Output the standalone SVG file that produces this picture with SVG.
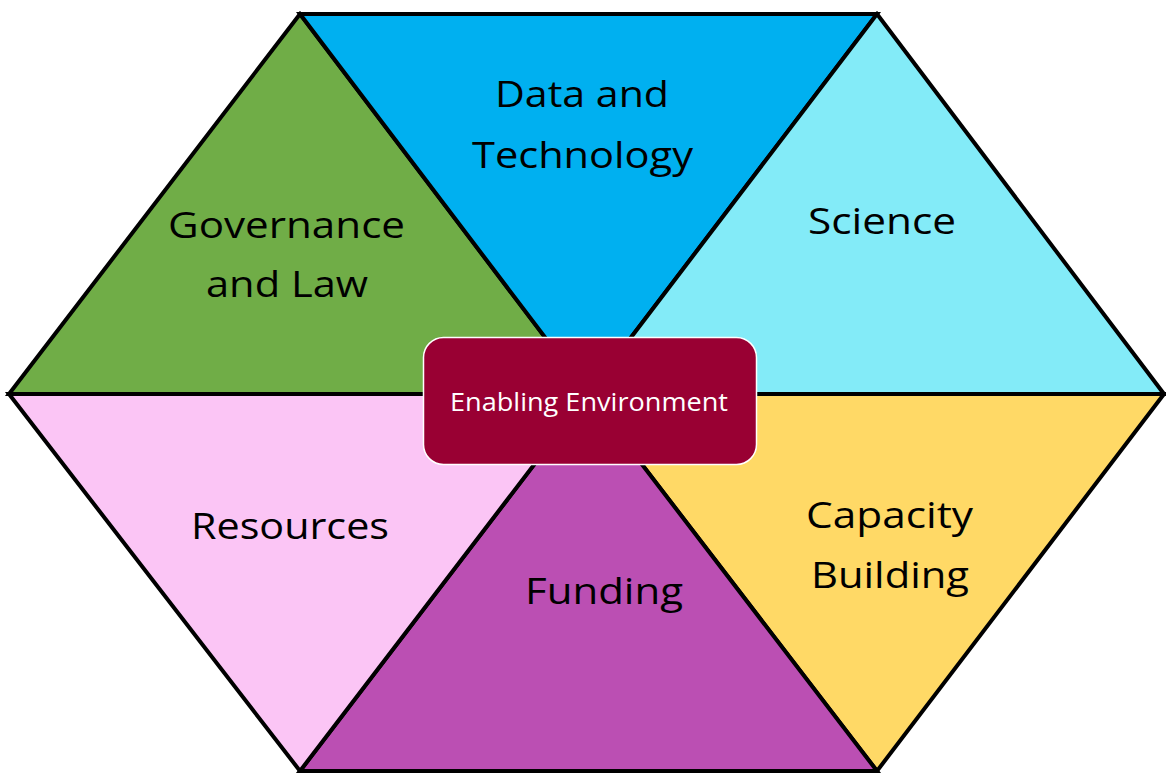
<svg xmlns="http://www.w3.org/2000/svg" width="1166" height="773" viewBox="0 0 1166 773">
<style>
.tri{stroke:#000;stroke-width:4;stroke-linejoin:miter}
.lbl{font-family:"Open Sans","Noto Sans",sans-serif;font-size:36px;fill:#000;text-anchor:middle}
.ctr{font-family:"Open Sans","Noto Sans",sans-serif;font-size:25px;fill:#fff;text-anchor:middle}
</style>
<rect width="1166" height="773" fill="#fff"/>
<g id="governance">
<polygon class="tri" points="300,14 9,394 588,394" fill="#70AD47"/>
<text class="lbl" x="286.5" y="238" textLength="237" lengthAdjust="spacingAndGlyphs">Governance</text>
<text class="lbl" x="287" y="297" textLength="162" lengthAdjust="spacingAndGlyphs">and Law</text>
</g>
<g id="data-technology">
<polygon class="tri" points="300,14 877,14 588,394" fill="#00B0F0"/>
<text class="lbl" x="582" y="107" textLength="174" lengthAdjust="spacingAndGlyphs">Data and</text>
<text class="lbl" x="582.5" y="168" textLength="221" lengthAdjust="spacingAndGlyphs">Technology</text>
</g>
<g id="science">
<polygon class="tri" points="877,14 1164,394 588,394" fill="#83EBF8"/>
<text class="lbl" x="882" y="234" textLength="148" lengthAdjust="spacingAndGlyphs">Science</text>
</g>
<g id="capacity-building">
<polygon class="tri" points="1164,394 877,771 588,394" fill="#FFD966"/>
<text class="lbl" x="889.5" y="528" textLength="167" lengthAdjust="spacingAndGlyphs">Capacity</text>
<text class="lbl" x="890" y="588" textLength="158" lengthAdjust="spacingAndGlyphs">Building</text>
</g>
<g id="funding">
<polygon class="tri" points="877,771 300,771 588,394" fill="#BB4FB3"/>
<text class="lbl" x="604" y="604" textLength="158" lengthAdjust="spacingAndGlyphs">Funding</text>
</g>
<g id="resources">
<polygon class="tri" points="300,771 9,394 588,394" fill="#FBC5F5"/>
<text class="lbl" x="290" y="539" textLength="198" lengthAdjust="spacingAndGlyphs">Resources</text>
</g>
<g id="connectors"></g>
<g id="enabling-environment">
<rect x="423.5" y="337.5" width="333" height="127" rx="20" ry="20" fill="#990033" stroke="#fff" stroke-width="1.5"/>
<text class="ctr" x="589" y="411" textLength="278" lengthAdjust="spacingAndGlyphs">Enabling Environment</text>
</g>
</svg>
